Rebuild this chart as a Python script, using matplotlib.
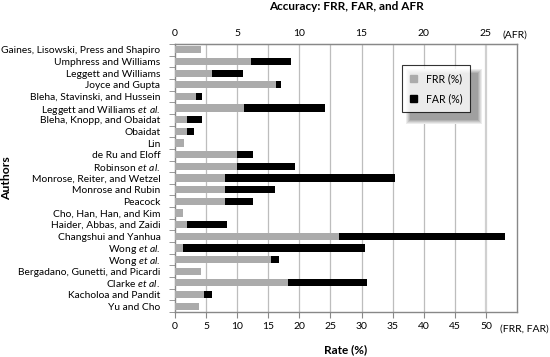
import matplotlib
matplotlib.use("Agg")
import matplotlib.pyplot as plt
from matplotlib.patches import Rectangle, Patch
import numpy as np

plt.rcParams['font.family'] = ['Lato', 'DejaVu Sans']
plt.rcParams['mathtext.fontset'] = 'custom'
plt.rcParams['mathtext.rm'] = 'Lato'
plt.rcParams['mathtext.it'] = 'Lato:italic'

authors = [
    "Gaines, Lisowski, Press and Shapiro",
    "Umphress and Williams",
    "Leggett and Williams",
    "Joyce and Gupta",
    "Bleha, Stavinski, and Hussein",
    r"Leggett and Williams $\it{et\ al.}$",
    "Bleha, Knopp, and Obaidat",
    "Obaidat",
    "Lin",
    "de Ru and Eloff",
    r"Robinson $\it{et\ al.}$",
    "Monrose, Reiter, and Wetzel",
    "Monrose and Rubin",
    "Peacock",
    "Cho, Han, Han, and Kim",
    "Haider, Abbas, and Zaidi",
    "Changshui and Yanhua",
    r"Wong $\it{et\ al.}$",
    r"Wong $\it{et\ al.}$",
    "Bergadano, Gunetti, and Picardi",
    r"Clarke $\it{et\ al.}$",
    "Kacholoa and Pandit",
    "Yu and Cho",
]
frr = [4.2, 12.2, 5.9, 16.2, 3.3, 11.1, 1.9, 1.9, 1.4, 9.9, 9.9,
       8.0, 8.0, 8.0, 1.3, 2.0, 26.4, 1.3, 15.4, 4.2, 18.1, 4.6, 3.8]
far = [0.0, 6.4, 5.1, 0.9, 1.0, 13.1, 2.5, 1.2, 0.0, 2.7, 9.4,
       27.4, 8.1, 4.6, 0.0, 6.3, 26.6, 29.2, 1.4, 0.0, 12.8, 1.3, 0.0]

gray = '#ababab'
fig = plt.figure(figsize=(5.5, 3.57), dpi=100)
ax = fig.add_axes([175/550, 1-312/357, (517-175)/550, (312-44)/357])

y = np.arange(len(authors))
ax.barh(y, frr, height=0.62, color=gray, linewidth=0, zorder=3)
ax.barh(y, far, left=frr, height=0.62, color='black', linewidth=0, zorder=3)

ax.set_xlim(0, 55)
ax.set_ylim(len(authors) - 0.5, -0.5)
ax.set_xticks(np.arange(0, 51, 5))
ax.set_yticks(y)
ax.set_yticklabels(authors, fontsize=7.4)
ax.set_yticks(np.arange(-0.5, len(authors), 1), minor=True)
ax.tick_params(axis='y', which='major', length=0, pad=10.5)
ax.tick_params(axis='y', which='minor', length=4, color='#888888')
ax.tick_params(axis='x', length=4, color='#888888', labelsize=7.5, pad=3)
for v in np.arange(5, 51, 5):
    ax.axvline(v, color='#bdbdbd' if v != 50 else '#d0d0d0',
               lw=0.9 if v != 50 else 1.6, zorder=1)
for s in ax.spines.values():
    s.set_color('#888888')
    s.set_linewidth(1.0)

sec = ax.secondary_xaxis('top', functions=(lambda x: x / 2, lambda x: x * 2))
sec.set_xticks(np.arange(0, 26, 5))
sec.tick_params(length=0, labelsize=7.5, pad=4)
sec.spines['top'].set_color('#888888')

fig.text(515/550, 1-35/357, "(AFR)", ha='center', va='center', fontsize=7.5)
fig.text(524/550, 1-329/357, "(FRR, FAR)", ha='center', va='center', fontsize=7.5)

fig.text(346/550, 1-7/357, "Accuracy: FRR, FAR, and AFR", ha='center',
         va='center', fontsize=8.5, fontweight='bold')
fig.text(346/550, 1-350/357, "Rate (%)", ha='center', va='center',
         fontsize=8.5, fontweight='bold')
fig.text(7/550, 1-178/357, "Authors", ha='center', va='center',
         fontsize=8.8, fontweight='bold', rotation=90)

handles = [Patch(color=gray, label='FRR (%)'), Patch(color='black', label='FAR (%)')]
leg = fig.legend(handles=handles, loc='upper left',
                 bbox_to_anchor=(402/550, 1-65/357), borderaxespad=0,
                 fontsize=7.6,
                 frameon=True, fancybox=False, edgecolor='black',
                 handlelength=0.7, handleheight=0.7, handletextpad=0.8,
                 borderpad=0.75, labelspacing=0.9)
leg.get_frame().set_linewidth(0.8)
leg.set_zorder(10)

fig.canvas.draw()
bb = leg.get_window_extent()
W, H = fig.bbox.width, fig.bbox.height
layers = [(0, '#ececec'), (1, '#dadada'), (2, '#c6c6c6'), (3, '#b2b2b2'), (4, '#a0a0a0')]
off = 8
for shrink, c in layers:
    sh = Rectangle(((bb.x0 + off - 4 + shrink) / W, (bb.y0 - off - 4 + shrink) / H),
                   (bb.width + 8 - 2 * shrink) / W, (bb.height + 8 - 2 * shrink) / H,
                   transform=fig.transFigure, facecolor=c, edgecolor='none',
                   zorder=9)
    fig.add_artist(sh)

fig.savefig("out.png", dpi=100)
